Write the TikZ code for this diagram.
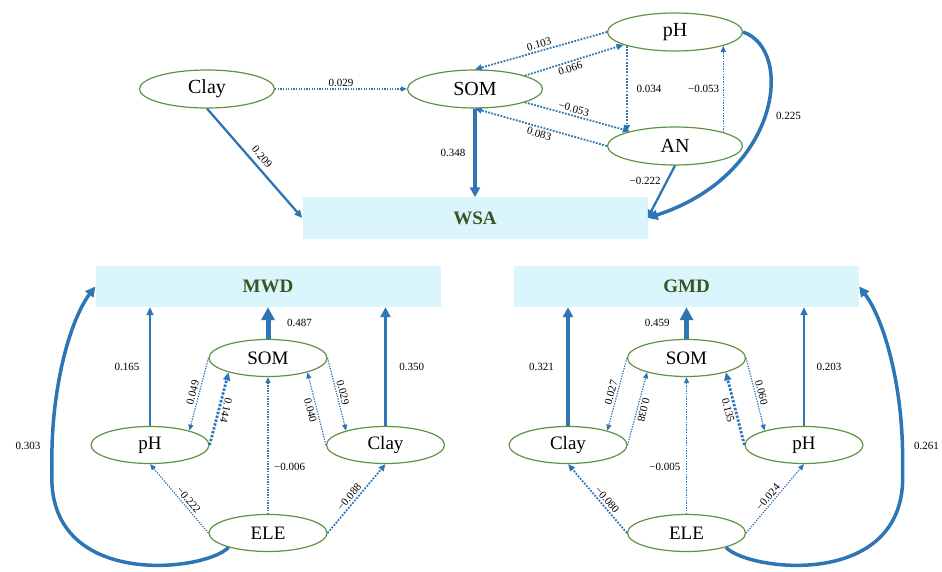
\documentclass[tikz,border=0pt]{standalone}
\usepackage{fontspec}
\setmainfont{Liberation Serif}
\usetikzlibrary{arrows.meta,positioning,shapes.geometric}
\definecolor{blu}{HTML}{2E75B6}
\definecolor{verde}{HTML}{5F9341}
\definecolor{verdescuro}{HTML}{375623}
\definecolor{celeste}{HTML}{DAF5FC}
\tikzset{main base/.style={draw=verde,line width=1.2pt,text centered}, }
\tikzset{main node/.style={ellipse,main base,inner sep=0pt,
    minimum width=118pt,minimum height=37pt,font=\fontsize{19}{22}\selectfont}, }
\tikzset{main node2/.style={main node,
    minimum width=135pt,minimum height=38pt,font=\fontsize{20}{24}\selectfont}, }
\tikzset{main box/.style={rectangle,fill=celeste,text=verdescuro,
    minimum width=345pt,minimum height=41pt,font=\bfseries\fontsize{19}{22}\selectfont}, }
\tikzset{main verb/.style={inner sep=2pt,font=\fontsize{11}{13}\selectfont}, }
\tikzset{linea1/.style={-{Triangle[length=6pt,width=5pt]},draw=blu,line width=1.2pt,dash pattern=on 1.3pt off 1.3pt}}
\tikzset{linea2/.style={-{Triangle[length=7pt,width=6pt]},draw=blu,line width=1.8pt,dash pattern=on 1.8pt off 1.4pt}}
\tikzset{linea3/.style={-{Triangle[length=8pt,width=7pt]},draw=blu,line width=2.8pt,dash pattern=on 2.4pt off 1.6pt}}
\tikzset{lineb1/.style={-{Triangle[length=8pt,width=7pt]},draw=blu,line width=2.3pt}}
\tikzset{lineb2/.style={-{Triangle[length=10pt,width=10pt]},draw=blu,line width=3.5pt}}
\tikzset{lineb3/.style={-{Triangle[length=13pt,width=13pt]},draw=blu,line width=5pt}}
\begin{document}
\begin{tikzpicture}[x=1pt,y=-1pt,on grid]
 \useasboundingbox (0,0) rectangle (942,572);
 % WSA
 \node[main node2] (1) at (207,89) {Clay};
 \node[main node2] (2) [right=268pt of 1] {SOM};
 \node[main node2] (3) [above right=57pt and 200pt of 2] {pH};
 \node[main node2] (4) [below=114pt of 3] {AN};
 \node[main box] (5) [below=129pt of 2] {WSA};
 % MWD
 \node[main box] (6) at (268,286.5) {MWD};
 \node[main node] (7) [below=71.5pt of 6] {SOM};
 \node[main node] (8) [below left=87pt and 118pt of 7] {pH};
 \node[main node] (9) [below right=87pt and 117.5pt of 7] {Clay};
 \node[main node] (10) [below=175pt of 7] {ELE};
 % GMD
 \node[main box] (11) at (686.5,286.5) {GMD};
 \node[main node] (12) [below=71.5pt of 11] {SOM};
 \node[main node] (13) [below left=87pt and 118.5pt of 12] {Clay};
 \node[main node] (14) [below right=87pt and 117.5pt of 12] {pH};
 \node[main node] (15) [below=175pt of 12] {ELE};

 \draw[linea1] (1) -- node[main verb,above] {0.029} (2);
 \draw[lineb1] (1.south) -- node[main verb,inner sep=5pt,sloped,above] {0.209} (5.west);
 \draw[lineb2] (2.south) -- node[main verb,left=6pt] {0.348} (5.north);
 \draw[linea2] (3.west) -- node[main verb,sloped,above] {0.103} (2.north);
 \draw[linea2] (2.15) -- node[main verb,pos=0.44,sloped,below] {0.066} (3.194);
 \draw[linea2] (2.-15) -- node[main verb,pos=0.45,sloped,above] {−0.053} (4.162);
 \draw[linea2] (4.west) -- node[main verb,sloped,below] {0.083} (2.south);
 \draw[linea2] (3.196) -- node[main verb,right=7pt] {0.034} (4.164);
 \draw[linea1] (4.16) -- node[main verb,left=1.5pt] {−0.053} (3.-16);
 \draw[lineb1] (4.south) -- node[main verb,pos=0.3,left=3pt] {−0.222} (5.east);
 \draw[lineb2] (3.east) .. controls (795,50) and (780,175) .. (5.east)
   node[main verb,pos=0.5,right=8pt] {0.225};
 %
 \draw[lineb3] (7) -- node[main verb,right=14.5pt] {0.487} (6);
 \draw[lineb1] (8.north) -- node[main verb,left=7.5pt] {0.165} (8.north |- 6.south);
 \draw[lineb2] (9.north) -- node[main verb,right=10pt] {0.350} (9.north |- 6.south);
 \draw[linea1] (7.west) -- node[main verb,sloped,above] {0.049} (8.20);
 \draw[linea3] (8.east) -- node[main verb,rotate=-103,anchor=south] {0.144} (7.200);
 \draw[linea1] (7.east) -- node[main verb,sloped,above] {0.029} (9.160);
 \draw[linea1] (9.west) -- node[main verb,sloped,below] {0.040} (7.-20);
 \draw[linea1] (10) -- node[main verb,pos=0.34,right=3.5pt] {−0.006} (7);
 \draw[linea1] (10.west) -- node[main verb,pos=0.42,sloped,above] {−0.222} (8.south);
 \draw[linea2] (10.east) -- node[main verb,pos=0.46,sloped,above] {−0.088} (9.south);
 \draw[lineb2] (10.200) .. controls (205,572) and (45,590) .. (52,470)
   .. controls (50,390) and (70,320) .. (6.west) node[main verb,pos=0.1,left=8pt] {0.303};
 %
 \draw[lineb3] (12) -- node[main verb,left=12.5pt] {0.459} (11);
 \draw[lineb2] (13.north) -- node[main verb,left=10.5pt] {0.321} (13.north |- 11.south);
 \draw[lineb1] (14.north) -- node[main verb,right=9.5pt] {0.203} (14.north |- 11.south);
 \draw[linea1] (12.west) -- node[main verb,sloped,above] {0.027} (13.20);
 \draw[linea1] (13.east) -- node[main verb,rotate=-103,anchor=south] {0.038} (12.200);
 \draw[linea1] (12.east) -- node[main verb,sloped,above] {0.060} (14.160);
 \draw[linea3] (14.west) -- node[main verb,sloped,below] {0.135} (12.-20);
 \draw[linea1] (15) -- node[main verb,pos=0.34,left=3.5pt] {−0.005} (12);
 \draw[linea2] (15.west) -- node[main verb,pos=0.42,sloped,above] {−0.080} (13.south);
 \draw[linea1] (15.east) -- node[main verb,pos=0.46,sloped,above] {−0.024} (14.south);
 \draw[lineb2] (15.-20) .. controls (749.5,572) and (909.5,590) .. (902.5,470)
   .. controls (904.5,390) and (884.5,320) .. (11.east) node[main verb,pos=0.1,right=8pt] {0.261};
\end{tikzpicture}
\end{document}
